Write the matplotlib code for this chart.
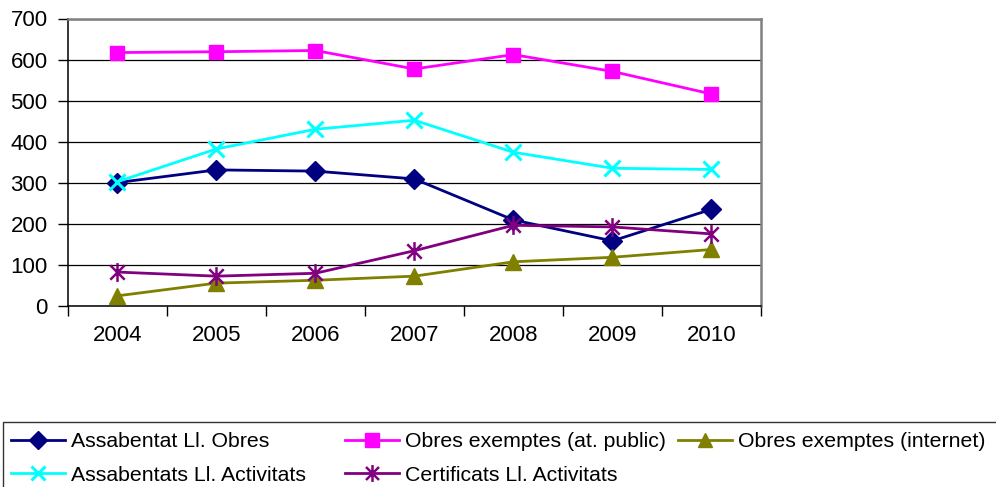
import matplotlib
matplotlib.use("Agg")
import matplotlib.pyplot as plt
import matplotlib.patches as patches
from matplotlib.path import Path

plt.rcParams['font.family'] = ['Liberation Sans', 'DejaVu Sans']

years = ["2004", "2005", "2006", "2007", "2008", "2009", "2010"]

assabentat_obres = [300, 331, 328, 309, 209, 158, 235]
obres_public = [617, 619, 622, 577, 612, 571, 516]
obres_internet = [24, 55, 62, 72, 107, 118, 137]
assabentats_activitats = [302, 382, 430, 452, 374, 335, 332]
certificats_activitats = [82, 72, 79, 134, 196, 192, 175]

labels = [
    "Assabentat Ll. Obres",
    "Obres exemptes (at. public)",
    "Obres exemptes (internet)",
    "Assabentats Ll. Activitats",
    "Certificats Ll. Activitats",
]

# asterisk marker: x plus a vertical bar
star = Path([(-1, -1), (1, 1), (-1, 1), (1, -1), (0, -1.3), (0, 1.3)],
            [Path.MOVETO, Path.LINETO, Path.MOVETO, Path.LINETO, Path.MOVETO, Path.LINETO])

W, H = 996, 487
fig = plt.figure(figsize=(W / 100, H / 100), dpi=100)
ax = fig.add_axes([67.7 / W, 1 - 305.7 / H, (761 - 67.7) / W, (305.7 - 18.5) / H])

x = list(range(len(years)))
lw = 2.0
h1, = ax.plot(x, assabentat_obres, color="#000080", lw=lw, marker="D", ms=10.5,
              label=labels[0], zorder=3)
h2, = ax.plot(x, obres_public, color="#FF00FF", lw=lw, marker="s", ms=10.5,
              label=labels[1], zorder=3)
h3, = ax.plot(x, obres_internet, color="#808000", lw=lw, marker="^", ms=11,
              label=labels[2], zorder=3)
h4, = ax.plot(x, assabentats_activitats, color="#00FFFF", lw=lw, marker="x", ms=11.5,
              mew=2.2, label=labels[3], zorder=3)
h5, = ax.plot(x, certificats_activitats, color="#800080", lw=lw, marker=star, ms=13.5,
              mew=1.8, label=labels[4], zorder=3)

ax.set_xlim(-0.5, len(years) - 0.5)
ax.set_ylim(0, 700)
ax.set_yticks(range(0, 701, 100))
ax.yaxis.grid(True, color="black", lw=0.9)
ax.set_axisbelow(True)

# ticks at category boundaries, labels at centres
ax.set_xticks([i - 0.5 for i in range(len(years) + 1)])
ax.set_xticklabels([])
ax.set_xticks(x, minor=True)
ax.set_xticklabels(years, minor=True)
ax.tick_params(axis="x", which="major", direction="out", length=7, width=1)
ax.tick_params(axis="x", which="minor", length=0, pad=14, labelsize=16)
ax.tick_params(axis="y", direction="out", length=7, width=1, pad=7.5, labelsize=16)

for s in ["top", "right"]:
    ax.spines[s].set_color("#808080")
    ax.spines[s].set_linewidth(1.8)
for s in ["left", "bottom"]:
    ax.spines[s].set_color("black")
    ax.spines[s].set_linewidth(1.1)

# legend frame, cut off at the figure edges like the original
fig.patches.append(patches.Rectangle((3.3 / W, -0.2), 1.2, 1 - 421.7 / H + 0.2,
                                     transform=fig.transFigure, fill=False,
                                     edgecolor="#333333", lw=1))

leg_kw = dict(loc="upper left", frameon=False, borderpad=0, borderaxespad=0,
              fontsize=15.3, handlelength=2.55, handletextpad=0.28,
              labelspacing=0.69, markerscale=0.9)
top = 1 - 432 / H
fig.legend([h1, h4], [labels[0], labels[3]], bbox_to_anchor=(11 / W, top), **leg_kw)
fig.legend([h2, h5], [labels[1], labels[4]], bbox_to_anchor=(345 / W, top), **leg_kw)
fig.legend([h3], [labels[2]], bbox_to_anchor=(678 / W, top), **leg_kw)

fig.savefig("out.png", dpi=100)
